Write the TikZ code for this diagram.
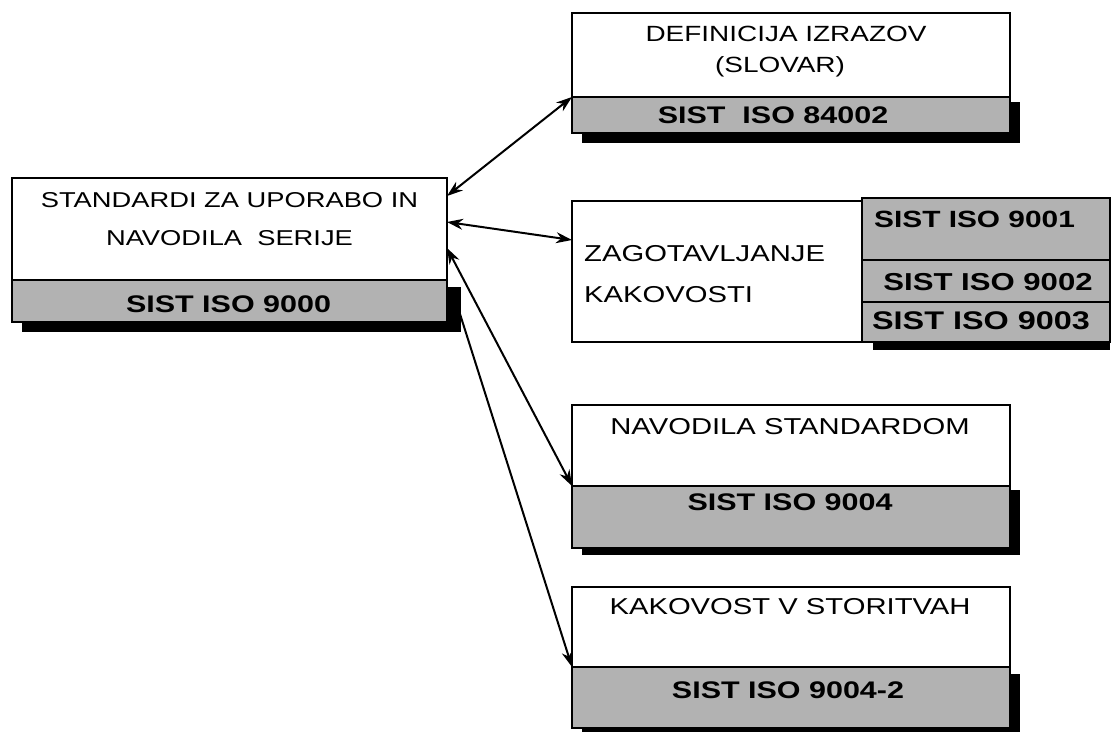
\documentclass[tikz,border=0pt]{standalone}
\usepackage{fontspec}
\setmainfont{Liberation Sans}
\newfontfamily\wfont[FakeStretch=1.27]{Liberation Sans}
\usetikzlibrary{arrows.meta}
\tikzset{
  wbox/.style={draw=black, line width=2.4pt, fill=white, anchor=north west, inner sep=0pt, outer sep=0pt, rectangle},
  gbox/.style={wbox, fill=black!30},
  shad/.style={fill=black},
  lbl/.style={font=\wfont\fontsize{#1}{#1}\selectfont, inner sep=0pt},
  blbl/.style={font=\wfont\bfseries\fontsize{#1}{#1}\selectfont, inner sep=0pt},
  link/.style={line width=2pt, {Stealth[length=16pt,width=11pt]}-{Stealth[length=16pt,width=11pt]}},
  linkone/.style={line width=2pt, -{Stealth[length=16pt,width=11pt]}},
}
\begin{document}
\begin{tikzpicture}[x=1pt,y=-1pt]
\useasboundingbox (0,0) rectangle (1115,731);
\clip (0,0) rectangle (1115,731);
\fill[white] (0,0) rectangle (1115,731);

% connector end points
\coordinate (m1) at (447,196);
\coordinate (m2) at (447,222);
\coordinate (m3) at (447,248);
\coordinate (m4) at (453,292);
\coordinate (d1) at (572,97);
\coordinate (d2) at (572,240);
\coordinate (d3) at (572,486);
\coordinate (d4) at (572,667);

% connectors
\draw[link] (m1) -- (d1);
\draw[link] (m2) -- (d2);
\draw[link] (m3) -- (d3);
\draw[linkone] (m4) -- (d4);

% shadows
\fill[shad] (22,287) rectangle (461,332);
\fill[shad] (582,102) rectangle (1020,143);
\fill[shad] (873,330) rectangle (1110,350);
\fill[shad] (582,490) rectangle (1020,555);
\fill[shad] (582,674) rectangle (1020,745);

% main box
\node[wbox, minimum width=435pt, minimum height=102pt] (mainw) at (12,178) {};
\node[gbox, minimum width=435pt, minimum height=42pt] (maing) at (12,280) {};
\node[lbl=21.5] (t1) at (229.5,200) {STANDARDI ZA UPORABO IN};
\node[lbl=21.5] (t2) at (229.5,238) {NAVODILA\ \ SERIJE};
\node[blbl=24] (t3) at (228.5,304) {SIST ISO 9000};

% definicija
\node[wbox, minimum width=438pt, minimum height=84pt] (defw) at (572,13) {};
\node[gbox, minimum width=438pt, minimum height=36pt] (defg) at (572,97) {};
\node[lbl=22] (t4) at (786,34) {DEFINICIJA IZRAZOV};
\node[lbl=22] (t5) at (780,67) {(SLOVAR)};
\node[blbl=24] (t6) at (773,115) {SIST\ \ ISO 84002};

% zagotavljanje
\node[wbox, minimum width=290pt, minimum height=141pt] (zagw) at (572,201) {};
\node[gbox, minimum width=248pt, minimum height=62pt] (zg1) at (862,198) {};
\node[gbox, minimum width=248pt, minimum height=42pt] (zg2) at (862,260) {};
\node[gbox, minimum width=248pt, minimum height=40pt] (zg3) at (862,302) {};
\node[lbl=23, anchor=west] (t7) at (584,254) {ZAGOTAVLJANJE};
\node[lbl=23, anchor=west] (t8) at (584,295) {KAKOVOSTI};
\node[blbl=23.5] (t9) at (974.5,219) {SIST ISO 9001};
\node[blbl=24.5] (t10) at (988,282) {SIST ISO 9002};
\node[blbl=25.5] (t11) at (981,321) {SIST ISO 9003};

% navodila
\node[wbox, minimum width=438pt, minimum height=81pt] (navw) at (572,405) {};
\node[gbox, minimum width=438pt, minimum height=62pt] (navg) at (572,486) {};
\node[lbl=23] (t12) at (790,427) {NAVODILA STANDARDOM};
\node[blbl=24] (t13) at (790,502) {SIST ISO 9004};

% kakovost
\node[wbox, minimum width=438pt, minimum height=80pt] (kakw) at (572,587) {};
\node[gbox, minimum width=438pt, minimum height=61pt] (kakg) at (572,667) {};
\node[lbl=23] (t14) at (790,607) {KAKOVOST V STORITVAH};
\node[blbl=24] (t15) at (788,690) {SIST ISO 9004-2};
\end{tikzpicture}
\end{document}
